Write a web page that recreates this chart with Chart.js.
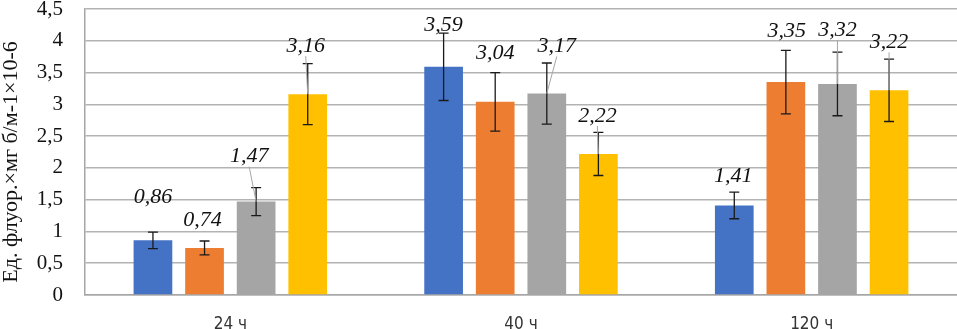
<!DOCTYPE html>
<html>
<head>
<meta charset="utf-8">
<script src="https://cdn.jsdelivr.net/npm/chart.js@4/dist/chart.umd.min.js"></script>
<style>
    html, body { margin: 0; padding: 0; background: #fff; }
    #chart { display: block; }
</style>
</head>
<body>
<canvas id="chart" width="957" height="329"></canvas>
<script>
// categories and series
var categorias = ["24 ч", "40 ч", "120 ч"];
var serie1 = [0.86, 3.59, 1.41];
var serie2 = [0.74, 3.04, 3.35];
var serie3 = [1.47, 3.17, 3.32];
var serie4 = [3.16, 2.22, 3.22];
// error bar half-widths
var error1 = [0.13, 0.53, 0.21];
var error2 = [0.11, 0.46, 0.50];
var error3 = [0.22, 0.48, 0.50];
var error4 = [0.48, 0.34, 0.49];
var ticksY = [0, 0.5, 1, 1.5, 2, 2.5, 3, 3.5, 4, 4.5];
var tituloY = "Ед. флуор.×мг б/м-1×10-6";

var colores = ["#4472C4", "#ED7D31", "#A5A5A5", "#FFC000"];

// label offsets from the bar top (dx, dy) and whether a leader line is drawn
var etiquetas = [
    [{ dx: 0, dy: -43 }, { dx: 0, dy: -42 }, { dx: -1, dy: -29 }],
    [{ dx: -2, dy: -28 }, { dx: 0, dy: -49 }, { dx: 1, dy: -51 }],
    [{ dx: -7, dy: -45, lider: true }, { dx: 10, dy: -47, lider: true }, { dx: 0, dy: -54, lider: true }],
    [{ dx: -2, dy: -48, lider: true }, { dx: -1, dy: -38, lider: true }, { dx: 0, dy: -48, lider: true }]
];

var errores = [error1, error2, error3, error4];

function coma(v) {
    return v.toFixed(2).replace(".", ",");
}

// error bars + data labels + leader lines
var pluginBarras = {
    id: "barrasError",
    afterDatasetsDraw: function (chart) {
        var ctx = chart.ctx;
        var y = chart.scales.y;
        chart.data.datasets.forEach(function (ds, i) {
            var meta = chart.getDatasetMeta(i);
            meta.data.forEach(function (bar, j) {
                var v = ds.data[j];
                var e = errores[i][j];
                var x = bar.x;
                var yTop = y.getPixelForValue(v + e);
                var yBot = y.getPixelForValue(v - e);
                var et = etiquetas[i][j];
                var lx = x + et.dx;
                var ly = bar.y + et.dy;

                ctx.save();
                // error bar
                ctx.strokeStyle = "#1a1a1a";
                ctx.lineWidth = 1.3;
                ctx.beginPath();
                ctx.moveTo(x, yTop); ctx.lineTo(x, yBot);
                ctx.moveTo(x - 5, yTop); ctx.lineTo(x + 5, yTop);
                ctx.moveTo(x - 5, yBot); ctx.lineTo(x + 5, yBot);
                ctx.stroke();

                // leader line
                if (et.lider) {
                    ctx.strokeStyle = "#a6a6a6";
                    ctx.lineWidth = 1;
                    ctx.beginPath();
                    ctx.moveTo(x, bar.y);
                    ctx.lineTo(lx, ly + 10);
                    ctx.stroke();
                }

                // label
                ctx.fillStyle = "#111";
                ctx.font = "italic 22px 'Liberation Serif', 'Times New Roman', serif";
                ctx.textAlign = "center";
                ctx.textBaseline = "middle";
                ctx.fillText(coma(v), lx, ly);
                ctx.restore();
            });
        });
    }
};

// rotated y title
var pluginTitulo = {
    id: "tituloY",
    afterDraw: function (chart) {
        var ctx = chart.ctx;
        ctx.save();
        ctx.translate(11, 162);
        ctx.rotate(-Math.PI / 2);
        ctx.fillStyle = "#111";
        ctx.font = "22px 'Liberation Serif', 'Times New Roman', serif";
        ctx.textAlign = "center";
        ctx.textBaseline = "middle";
        ctx.fillText(tituloY, 0, 0);
        ctx.restore();
    }
};

new Chart(document.getElementById("chart"), {
    type: "bar",
    data: {
        labels: categorias,
        datasets: [serie1, serie2, serie3, serie4].map(function (s, i) {
            return {
                label: "s" + (i + 1),
                data: s,
                backgroundColor: colores[i],
                barPercentage: 0.75,
                categoryPercentage: 0.71
            };
        })
    },
    options: {
        responsive: false,
        animation: false,
        devicePixelRatio: 1,
        layout: { padding: { top: 9, right: 0, left: 0, bottom: 0 } },
        plugins: {
            legend: { display: false },
            tooltip: { enabled: false }
        },
        scales: {
            x: {
                grid: { display: false, drawTicks: false },
                border: { color: "#a6a6a6", width: 1.5 },
                ticks: {
                    color: "#333",
                    padding: 19,
                    font: { family: "'Liberation Sans Narrow', 'DejaVu Sans Condensed', sans-serif", size: 17 }
                },
                afterFit: function (s) {
                    s.height = 34;
                    s.paddingLeft = 0;
                    s.paddingRight = 0;
                }
            },
            y: {
                min: 0,
                max: 4.5,
                afterBuildTicks: function (s) {
                    s.ticks = ticksY.map(function (t) { return { value: t }; });
                },
                grid: { color: "#b3b3b3", lineWidth: 1.5, drawTicks: false },
                border: { color: "#a6a6a6", width: 1.5 },
                ticks: {
                    autoSkip: false,
                    color: "#111",
                    padding: 22,
                    font: { family: "'Liberation Serif', 'Times New Roman', serif", size: 21 },
                    callback: function (v) { return String(v).replace(".", ","); }
                },
                afterFit: function (s) {
                    s.width = 85;
                    s.paddingTop = 0;
                    s.paddingBottom = 0;
                }
            }
        }
    },
    plugins: [pluginBarras, pluginTitulo]
});
</script>
</body>
</html>
